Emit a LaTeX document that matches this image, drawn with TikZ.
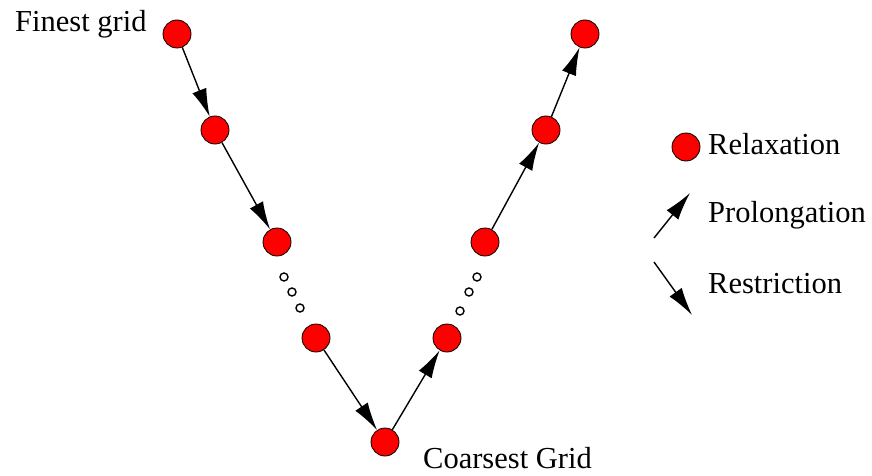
\documentclass[tikz,border=0pt]{standalone}
\usepackage{fontspec}
\setmainfont{Liberation Serif}
\usetikzlibrary{arrows.meta}
\begin{document}
\begin{tikzpicture}[x=1pt,y=-1pt,
  grid/.style={circle,draw=black,fill=red,line width=0.8pt,minimum size=28pt,inner sep=0pt},
  dotc/.style={circle,draw=black,fill=white,line width=1.4pt,minimum size=8pt,inner sep=0pt},
  arr/.style={line width=1.4pt,-{Latex[length=28pt,width=15pt]}},
  lbl/.style={inner sep=0pt,anchor=base west,font=\fontsize{30.5}{36}\selectfont}]
\useasboundingbox (0,0) rectangle (872,476);
\node[grid] (n1) at (177,34) {};
\node[grid] (n2) at (215,130) {};
\node[grid] (n3) at (277,242) {};
\node[grid] (n4) at (316,338) {};
\node[grid] (n5) at (385,442) {};
\node[grid] (n6) at (447,338) {};
\node[grid] (n7) at (485,242) {};
\node[grid] (n8) at (546,130) {};
\node[grid] (n9) at (585,34) {};
\node[dotc] (d1) at (284,277) {};
\node[dotc] (d2) at (292,292) {};
\node[dotc] (d3) at (300,308) {};
\node[dotc] (d4) at (477,277) {};
\node[dotc] (d5) at (469,292) {};
\node[dotc] (d6) at (460,311) {};
\draw[arr] (n1) -- (n2);
\draw[arr] (n2) -- (n3);
\draw[arr] (n4) -- (n5);
\draw[arr] (n5) -- (n6);
\draw[arr] (n7) -- (n8);
\draw[arr] (n8) -- (n9);
\node[lbl] (tf) at (15,32) {Finest grid};
\node[lbl] (tc) at (423,468) {Coarsest Grid};
\node[grid] (lg) at (686,147) {};
\node[lbl] (tr) at (708,154) {Relaxation};
\node[lbl] (tp) at (708,222) {Prolongation};
\node[lbl] (ts) at (708,293) {Restriction};
\coordinate (p1) at (654,238);
\coordinate (p2) at (690,193);
\coordinate (r1) at (654,262);
\coordinate (r2) at (692,315);
\draw[arr] (p1) -- (p2);
\draw[arr] (r1) -- (r2);
\end{tikzpicture}
\end{document}
